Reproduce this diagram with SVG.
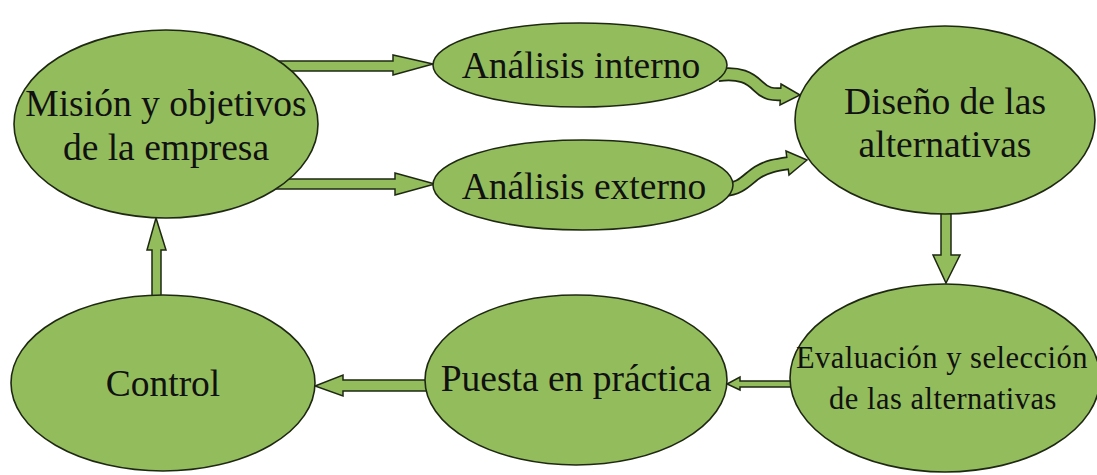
<svg xmlns="http://www.w3.org/2000/svg" width="1097" height="475" viewBox="0 0 1097 475">
<style>
.n{fill:#93bd5d;stroke:#1e2812;stroke-width:1.6}
.a{fill:#93bd5d;stroke:#1e2812;stroke-width:1.5;stroke-linejoin:miter}
.t{font-family:"Liberation Serif",serif;font-size:37.5px;fill:#111;text-anchor:middle}
.s{font-family:"Liberation Serif",serif;font-size:30.5px;fill:#111;text-anchor:middle;letter-spacing:0.5px}
</style>
<rect width="1097" height="475" fill="#fff"/>
<g id="connectors">
<polygon class="a" points="270,61 393,61 393,55 433,64 393,75 393,71 270,71"/>
<polygon class="a" points="270,179 395,179 395,173 435,184 395,195 395,189 270,189"/>
<path d="M718 75 C740 72,750 78,758 86 S772 95,784 94" fill="none" stroke="#1e2812" stroke-width="14"/>
<polygon class="a" points="781,84 800,95 780,105"/>
<path d="M718 75 C740 72,750 78,758 86 S772 95,784 94" fill="none" stroke="#93bd5d" stroke-width="10.5"/>
<path d="M724 190 C742 189,748 178,758 172 S776 165,790 163" fill="none" stroke="#1e2812" stroke-width="14"/>
<polygon class="a" points="786,151 807,160 789,175"/>
<path d="M724 190 C742 189,748 178,758 172 S776 165,790 163" fill="none" stroke="#93bd5d" stroke-width="10.5"/>
<polygon class="a" points="941,205 951,205 951,255 960,255 946,283 933,255 941,255"/>
<polygon class="a" points="800,381 740,381 740,377 727,384 740,390 740,387 800,387"/>
<polygon class="a" points="430,380 343,380 343,375 315,386 343,396 343,391 430,391"/>
<polygon class="a" points="152,300 152,250 147,250 156,218 166,250 161,250 161,300"/>
</g>
<g id="mision"><ellipse class="n" cx="166" cy="124" rx="152" ry="94"/><text class="t" x="166" y="116">Misión y objetivos</text><text class="t" x="166" y="160">de la empresa</text></g>
<g id="interno"><ellipse class="n" cx="580" cy="65" rx="147" ry="42"/><text class="t" x="581" y="78">Análisis interno</text></g>
<g id="externo"><ellipse class="n" cx="583" cy="185" rx="150" ry="45"/><text class="t" x="584" y="199">Análisis externo</text></g>
<g id="diseno"><ellipse class="n" cx="945" cy="120" rx="150" ry="94"/><text class="t" x="945" y="114">Diseño de las</text><text class="t" x="945" y="157">alternativas</text></g>
<g id="evaluacion"><ellipse class="n" cx="945" cy="378" rx="155" ry="94"/><text class="s" x="942" y="368">Evaluación y selección</text><text class="s" x="943" y="409">de las alternativas</text></g>
<g id="puesta"><ellipse class="n" cx="576" cy="380" rx="151" ry="85"/><text class="t" x="576" y="391">Puesta en práctica</text></g>
<g id="control"><ellipse class="n" cx="163" cy="383" rx="152" ry="88"/><text class="t" x="163" y="396">Control</text></g>
</svg>
